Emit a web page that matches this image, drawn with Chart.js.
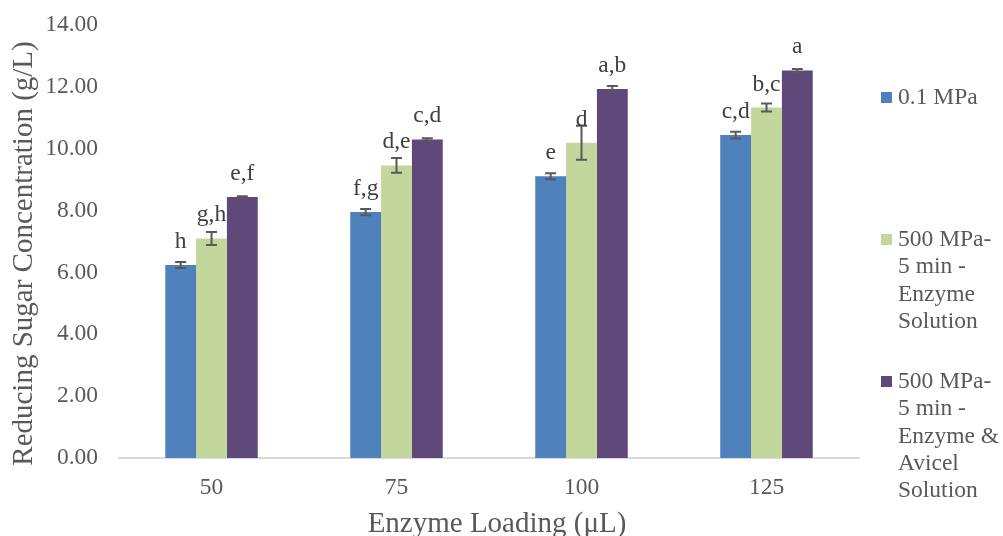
<!DOCTYPE html>
<html>
<head>
<meta charset="utf-8">
<script src="https://cdn.jsdelivr.net/npm/chart.js@4.4.1/dist/chart.umd.min.js"></script>
<style>
    html, body { margin: 0; padding: 0; background: #fff; }
    #wrap { width: 1003px; height: 536px; }
</style>
</head>
<body>
<div id="wrap"><canvas id="sugarChart" width="1003" height="536"></canvas></div>
<script>
// Enzyme loading categories (x axis)
const loadings = ["50", "75", "100", "125"];

// Reducing sugar concentration (g/L) per series
const atmValues = [6.24, 7.95, 9.11, 10.44];
const enzValues = [7.10, 9.46, 10.19, 11.33];
const avicelValues = [8.44, 10.30, 11.93, 12.53];

// Error bar half-widths (g/L)
const atmErrors = [0.10, 0.10, 0.10, 0.11];
const enzErrors = [0.21, 0.24, 0.55, 0.13];
const avicelErrors = [0.02, 0.04, 0.10, 0.05];

// Significance letters above each bar
const atmLetters = ["h", "f,g", "e", "c,d"];
const enzLetters = ["g,h", "d,e", "d", "b,c"];
const avicelLetters = ["e,f", "c,d", "a,b", "a"];

// Legend text, wrapped as in the original
const atmLegend = ["0.1 MPa"];
const enzLegend = ["500 MPa-", "5 min -", "Enzyme", "Solution"];
const avicelLegend = ["500 MPa-", "5 min -", "Enzyme &", "Avicel", "Solution"];

// Axis titles
const xTitle = "Enzyme Loading (\u03bcL)";
const yTitle = "Reducing Sugar Concentration (g/L)";

// Y axis ticks
const yTicks = [0, 2, 4, 6, 8, 10, 12, 14];

const FONT = "'Liberation Serif', 'Times New Roman', serif";

document.addEventListener("DOMContentLoaded", function () {
    const ctx = document.getElementById("sugarChart").getContext("2d");

    // draws error bars and letters from the dataset values
    const barExtras = {
        id: "barExtras",
        afterDatasetsDraw(chart) {
            const c = chart.ctx;
            const yScale = chart.scales.y;
            chart.data.datasets.forEach((ds, i) => {
                const meta = chart.getDatasetMeta(i);
                meta.data.forEach((bar, j) => {
                    const v = ds.data[j];
                    const e = ds.errors[j];
                    const yTop = yScale.getPixelForValue(v + e);
                    const yBot = yScale.getPixelForValue(v - e);
                    c.save();
                    c.strokeStyle = "#595959";
                    c.lineWidth = 2;
                    c.beginPath();
                    c.moveTo(bar.x, yTop);
                    c.lineTo(bar.x, yBot);
                    c.moveTo(bar.x - 5.5, yTop);
                    c.lineTo(bar.x + 5.5, yTop);
                    c.moveTo(bar.x - 5.5, yBot);
                    c.lineTo(bar.x + 5.5, yBot);
                    c.stroke();

                    c.fillStyle = "#404040";
                    c.font = "23.5px " + FONT;
                    c.textAlign = "center";
                    c.textBaseline = "alphabetic";
                    c.fillText(ds.letters[j], bar.x, yScale.getPixelForValue(v) - 17);
                    c.restore();
                });
            });
        },
        afterDraw(chart) {
            const c = chart.ctx;
            const area = chart.chartArea;

            // legend on the right, wrapped lines
            const x0 = area.right + 22;
            c.save();
            c.font = "23.5px " + FONT;
            c.textBaseline = "middle";
            c.textAlign = "left";
            chart.data.datasets.forEach((ds, i) => {
                const y0 = 98 + i * 142;
                c.fillStyle = ds.backgroundColor;
                c.fillRect(x0, y0 - 6, 11, 11);
                c.fillStyle = "#595959";
                ds.legendLines.forEach((line, k) => {
                    c.fillText(line, x0 + 17, y0 + k * 27.2);
                });
            });

            // axis titles (centred like the spreadsheet original)
            c.font = "29px " + FONT;
            c.fillStyle = "#595959";
            c.textAlign = "center";
            c.textBaseline = "alphabetic";
            c.fillText(xTitle, (area.left + area.right) / 2 + 8, chart.height - 4);
            c.translate(32, (area.top + area.bottom) / 2 + 12);
            c.rotate(-Math.PI / 2);
            c.fillText(yTitle, 0, 0);
            c.restore();
        }
    };

    new Chart(ctx, {
        type: "bar",
        data: {
            labels: loadings,
            datasets: [
                {
                    label: atmLegend.join(" "),
                    data: atmValues,
                    errors: atmErrors,
                    letters: atmLetters,
                    legendLines: atmLegend,
                    backgroundColor: "#4f81bd",
                },
                {
                    label: enzLegend.join(" "),
                    data: enzValues,
                    errors: enzErrors,
                    letters: enzLetters,
                    legendLines: enzLegend,
                    backgroundColor: "#c3d69b",
                },
                {
                    label: avicelLegend.join(" "),
                    data: avicelValues,
                    errors: avicelErrors,
                    letters: avicelLetters,
                    legendLines: avicelLegend,
                    backgroundColor: "#5f497a",
                },
            ],
        },
        options: {
            responsive: false,
            animation: false,
            layout: { padding: { top: 25, right: 144, bottom: 0, left: 0 } },
            datasets: {
                bar: { categoryPercentage: 0.5, barPercentage: 1.0 }
            },
            plugins: {
                legend: { display: false },
                tooltip: { enabled: false },
            },
            scales: {
                x: {
                    grid: { display: false },
                    border: { display: true, color: "#d9d9d9", width: 2 },
                    ticks: {
                        color: "#595959",
                        font: { family: FONT, size: 23.5 },
                        padding: 8,
                    },
                    afterFit(scale) {
                        scale.height = 78;
                        scale.paddingLeft = 0;
                        scale.paddingRight = 0;
                    },
                },
                y: {
                    min: 0,
                    max: 14,
                    grid: { display: false },
                    border: { display: false },
                    afterBuildTicks(scale) {
                        scale.ticks = yTicks.map(v => ({ value: v }));
                    },
                    ticks: {
                        color: "#595959",
                        font: { family: FONT, size: 23.5 },
                        padding: 13,
                        callback: (v) => Number(v).toFixed(2),
                    },
                    afterFit(scale) {
                        scale.width = 119;
                        scale.paddingTop = 0;
                        scale.paddingBottom = 0;
                    },
                },
            },
        },
        plugins: [barExtras],
    });
});
</script>
</body>
</html>
